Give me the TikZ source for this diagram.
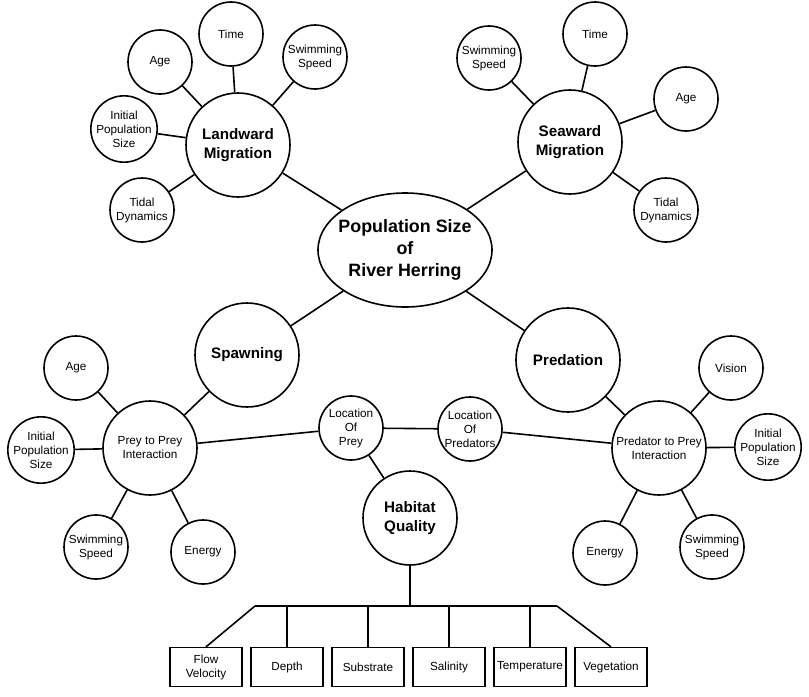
\documentclass[tikz,border=0pt]{standalone}
\usepackage{fontspec}
\setmainfont{Liberation Sans}
\usetikzlibrary{shapes.geometric, positioning, calc}
\tikzstyle{leaf} = [circle,draw,line width=1.2pt,minimum size=48pt,inner sep=0pt,align=center,font=\fontsize{8.8}{10.5}\selectfont]
\tikzstyle{inter} = [leaf,minimum size=70.5pt]
\tikzstyle{hub} = [circle,draw,line width=1.2pt,minimum size=78pt,inner sep=0pt,align=center,font=\bfseries\fontsize{11.4}{14.25}\selectfont]
\tikzstyle{factor} = [rectangle,draw,line width=1.2pt,minimum width=54pt,minimum height=29pt,inner sep=1pt,align=center,font=\fontsize{8.8}{10.5}\selectfont]
\tikzstyle{link} = [line width=1.2pt]

\begin{document}
\begin{tikzpicture}[x=0.75pt,y=-0.75pt,node distance=60.75pt,on grid]
    \useasboundingbox (0,0) rectangle (809,696);
    % centre
    \node[ellipse,draw,line width=1.2pt,minimum width=130.5pt,minimum height=85.5pt,inner sep=-4pt,align=center,font=\bfseries\fontsize{13.4}{16.25}\selectfont](pop) at (405,250) {Population Size\\of\\River Herring};
    % landward migration
    \node[hub](lm) at (238,145) {Landward\\Migration};
    \node[leaf](lm_age) at (160,62) {Age};
    \node[leaf](lm_time) at (231,34) {Time};
    \node[leaf](lm_speed) at (315,57) {Swimming\\Speed};
    \node[leaf](lm_init) at (124,129) {Initial\\Population\\Size};
    \node[leaf](lm_tide) at (142,210) {Tidal\\Dynamics};
    % seaward migration
    \node[hub](sm) at (570,142) {Seaward\\Migration};
    \node[leaf](sm_speed) at (489,58) {Swimming\\Speed};
    \node[leaf](sm_time) at (595,34) {Time};
    \node[leaf](sm_age) at (686,99) {Age};
    \node[leaf](sm_tide) at (666,210) {Tidal\\Dynamics};
    % spawning
    \node[hub](sp) at (247,355) {Spawning};
    \node[inter](prey) at (150,448) {Prey to Prey\\Interaction};
    \node[leaf](prey_age) at (76,368) {Age};
    \node[leaf](prey_init) at (41,450) {Initial\\Population\\Size};
    \node[leaf](prey_speed) at (96,547) {Swimming\\Speed};
    \node[leaf](prey_energy) at (203,552) {Energy};
    % predation
    \node[hub](pd) at (568,360) {Predation};
    \node[inter](pred) at (659,448) {Predator to Prey\\Interaction};
    \node[leaf](pred_vision) at (731,368) {Vision};
    \node[leaf](pred_init) at (768,447) {Initial\\Population\\Size};
    \node[leaf](pred_energy) at (605,553) {Energy};
    \node[leaf](pred_speed) at (712,547) {Swimming\\Speed};
    % habitat
    \node[leaf](loc_prey) at (351,428) {Location\\Of\\Prey};
    \node[leaf](loc_pred) at (470,429) {Location\\Of\\Predators};
    \node[inter,font=\bfseries\fontsize{11.4}{14.25}\selectfont](hq) at (410,518) {Habitat\\Quality};
    \coordinate (bar) at (410,606);
    \coordinate (bar_l) at (255,606);
    \coordinate (bar_r) at (557,606);
    \node[factor](f_0) at (206,667) {Flow\\Velocity};
    \node[factor](f_1)[right=of f_0] {Depth};
    \node[factor](f_2)[right=of f_1] {Substrate};
    \node[factor](f_3)[right=of f_2] {Salinity};
    \node[factor](f_4)[right=of f_3] {Temperature};
    \node[factor](f_5)[right=of f_4] {Vegetation};
    \path[link]
    (pop) edge (lm) (pop) edge (sm) (pop) edge (sp) (pop) edge (pd)
    (lm) edge (lm_age) (lm) edge (lm_time) (lm) edge (lm_speed)
    (lm) edge (lm_init) (lm) edge (lm_tide)
    (sm) edge (sm_speed) (sm) edge (sm_time) (sm) edge (sm_age) (sm) edge (sm_tide)
    (sp) edge (prey)
    (prey) edge (prey_age) (prey) edge (prey_init) (prey) edge (prey_speed) (prey) edge (prey_energy)
    (pd) edge (pred)
    (pred) edge (pred_vision) (pred) edge (pred_init) (pred) edge (pred_energy) (pred) edge (pred_speed)
    (prey) edge (loc_prey) (loc_prey) edge (loc_pred) (loc_pred) edge (pred)
    (loc_prey) edge (hq);
    \draw[link] (hq) -- (bar);
    \draw[link] (bar_l) -- (bar_r);
    \draw[link] (bar_l) -- (f_0.north);
    \draw[link] (bar_r) -- (f_5.north);
    \foreach \f in {f_1,f_2,f_3,f_4}
        \draw[link] (\f.north) -- (\f.north |- bar);
\end{tikzpicture}
\end{document}
